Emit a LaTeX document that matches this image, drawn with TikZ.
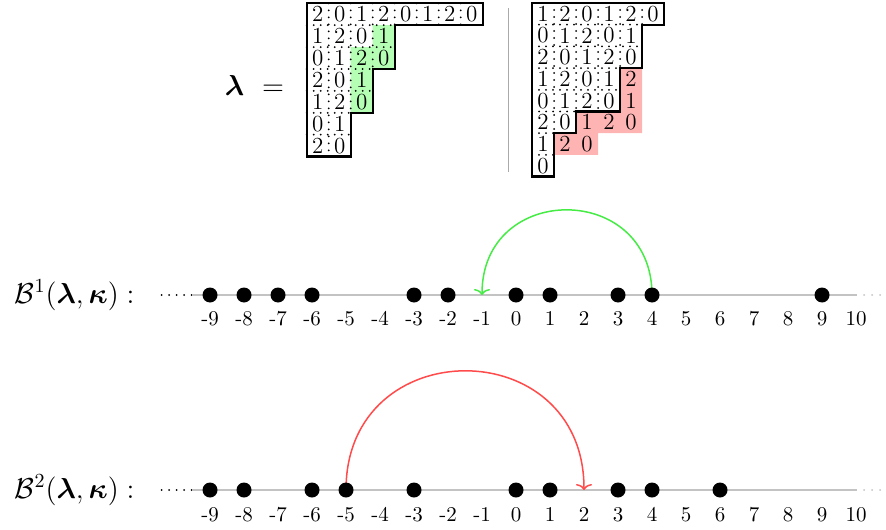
\documentclass[tikz,border=0pt]{standalone}
\usepackage{amsmath,amssymb,bm}
\usetikzlibrary{arrows.meta}
\definecolor{arcgreen}{RGB}{70,235,70}
\definecolor{arcred}{RGB}{255,75,75}
\definecolor{fillgreen}{RGB}{180,255,180}
\definecolor{fillred}{RGB}{255,180,180}
\definecolor{axisgray}{RGB}{195,195,195}
\definecolor{divgray}{RGB}{170,170,170}
\begin{document}
\begin{tikzpicture}[x=0.5pt,y=-0.5pt,
  dotline/.style={line width=1pt, dash pattern=on 0pt off 3.5pt, line cap=round},
  shapeoutline/.style={line width=1.15pt, line join=miter},
  cellnum/.style={inner sep=0pt, font=\fontsize{11.5}{13}\selectfont},
  axisline/.style={axisgray, line width=1pt},
  beadnode/.style={circle, fill=black, inner sep=0pt, minimum size=7.5pt},
  ticklabel/.style={anchor=base, inner sep=0pt, font=\fontsize{10.5}{12}\selectfont},
  mathlabel/.style={inner sep=0pt, font=\fontsize{14.6}{17}\selectfont},
  jumparc/.style={line width=0.75pt, -{To[length=3pt,width=8pt]}},
  leaddots/.style={line width=1pt, dash pattern=on 0pt off 3.75pt, line cap=round},
]
\useasboundingbox (0,0) rectangle (886,529);

% ---------- lambda = ----------
\node[anchor=base, inner sep=0pt, font=\fontsize{14}{16}\selectfont] (lam) at (234.5,96) {$\boldsymbol{\lambda}$};
\node[anchor=base, inner sep=0pt, font=\fontsize{14}{16}\selectfont] (eq) at (273,96) {$=$};

% ---------- left tableau ----------
\begin{scope}[shift={(306.7,3.3)}, x=11pt, y=-10.95pt]
  \fill[fillgreen] (3,1) -- (4,1) -- (4,3) -- (3,3) -- (3,5) -- (2,5) -- (2,2) -- (3,2) -- cycle;
  \draw[dotline] (1,0) -- (1,7);
  \draw[dotline] (2,0) -- (2,5);
  \draw[dotline] (3,0) -- (3,3);
  \foreach \x in {4,...,7} {\draw[dotline] (\x,0) -- (\x,1);}
  \draw[dotline] (0,1) -- (4,1);
  \draw[dotline] (0,2) -- (4,2);
  \draw[dotline] (0,3) -- (3,3);
  \draw[dotline] (0,4) -- (3,4);
  \draw[dotline] (0,5) -- (2,5);
  \draw[dotline] (0,6) -- (2,6);
  \draw[shapeoutline] (0,0) -- (8,0) -- (8,1) -- (4,1) -- (4,3) -- (3,3) -- (3,5) -- (2,5) -- (2,7) -- (0,7) -- cycle;
  \foreach \r/\row in {1/{2,0,1,2,0,1,2,0}, 2/{1,2,0,1}, 3/{0,1,2,0}, 4/{2,0,1}, 5/{1,2,0}, 6/{0,1}, 7/{2,0}} {
    \foreach \v [count=\c] in \row {
      \node[cellnum] (L\r-\c) at (\c-0.5,\r-0.5) {\v};
    }
  }
\end{scope}

% ---------- divider ----------
\coordinate (v1) at (508,8);
\coordinate (v2) at (508,172);
\draw[divgray, line width=0.5pt] (v1) -- (v2);

% ---------- right tableau ----------
\begin{scope}[shift={(532,3)}, x=11pt, y=-10.85pt]
  \fill[fillred] (4,3) -- (5,3) -- (5,6) -- (3,6) -- (3,7) -- (1,7) -- (1,6) -- (2,6) -- (2,5) -- (4,5) -- cycle;
  \draw[dotline] (1,0) -- (1,6);
  \draw[dotline] (2,0) -- (2,5);
  \draw[dotline] (3,0) -- (3,5);
  \draw[dotline] (4,0) -- (4,3);
  \draw[dotline] (5,0) -- (5,1);
  \draw[dotline] (0,1) -- (5,1);
  \draw[dotline] (0,2) -- (5,2);
  \draw[dotline] (0,3) -- (4,3);
  \draw[dotline] (0,4) -- (4,4);
  \draw[dotline] (0,5) -- (2,5);
  \draw[dotline] (0,6) -- (1,6);
  \draw[dotline] (0,7) -- (1,7);
  \draw[shapeoutline] (0,0) -- (6,0) -- (6,1) -- (5,1) -- (5,3) -- (4,3) -- (4,5) -- (2,5) -- (2,6) -- (1,6) -- (1,8) -- (0,8) -- cycle;
  \foreach \r/\row in {1/{1,2,0,1,2,0}, 2/{0,1,2,0,1}, 3/{2,0,1,2,0}, 4/{1,2,0,1,2}, 5/{0,1,2,0,1}, 6/{2,0,1,2,0}, 7/{1,2,0}, 8/{0}} {
    \foreach \v [count=\c] in \row {
      \node[cellnum] (R\r-\c) at (\c-0.5,\r-0.5) {\v};
    }
  }
\end{scope}

% ---------- number line 1 ----------
\node[mathlabel, anchor=base east] (B1) at (135,303) {$\mathcal{B}^1(\boldsymbol{\lambda},\boldsymbol{\kappa}):$};
\coordinate (l1a) at (161.7,295);
\coordinate (l1s) at (193,295);
\coordinate (l1e) at (857,295);
\coordinate (l1f) at (864,295);
\coordinate (l1g) at (881,295);
\draw[axisline] (l1s) -- (l1e);
\draw[leaddots] (l1a) -- (l1s);
\draw[leaddots, axisgray, dash pattern=on 0pt off 4pt] (l1f) -- (l1g);
\foreach \i in {-9,...,10} {
  \coordinate (a\i) at ({516+34*\i},295);
  \node[ticklabel] (ta\i) at ({516+34*\i},325) {\i};
}
\draw[jumparc, arcgreen] (a4) .. controls +(0,-113.3) and +(0,-113.3) .. (a-1);
\foreach \i in {-9,-8,-7,-6,-3,-2,0,1,3,4,9} {
  \node[beadnode] (p\i) at (a\i) {};
}

% ---------- number line 2 ----------
\node[mathlabel, anchor=base east] (B2) at (135,498) {$\mathcal{B}^2(\boldsymbol{\lambda},\boldsymbol{\kappa}):$};
\coordinate (l2a) at (161.7,490);
\coordinate (l2s) at (193,490);
\coordinate (l2e) at (857,490);
\coordinate (l2f) at (864,490);
\coordinate (l2g) at (881,490);
\draw[axisline] (l2s) -- (l2e);
\draw[leaddots] (l2a) -- (l2s);
\draw[leaddots, axisgray, dash pattern=on 0pt off 4pt] (l2f) -- (l2g);
\foreach \i in {-9,...,10} {
  \coordinate (b\i) at ({516+34*\i},490);
  \node[ticklabel] (tb\i) at ({516+34*\i},521) {\i};
}
\draw[jumparc, arcred] (b-5) .. controls +(0,-158.7) and +(0,-158.7) .. (b2);
\foreach \i in {-9,-8,-6,-5,-3,0,1,3,4,6} {
  \node[beadnode] (q\i) at (b\i) {};
}
\end{tikzpicture}
\end{document}
